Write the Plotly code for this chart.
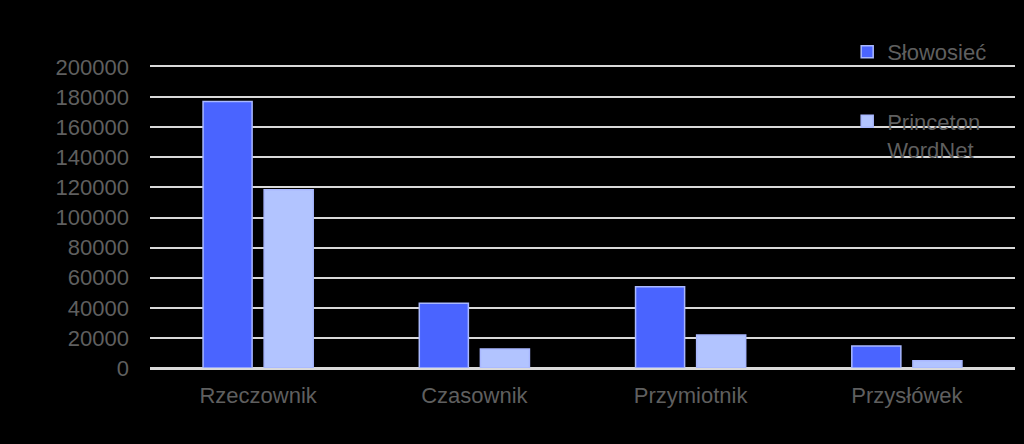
import plotly.graph_objects as go

# parts of speech and counts per wordnet
categories = ["Rzeczownik", "Czasownik", "Przymiotnik", "Przysłówek"]
slowosiec = [177000, 43000, 54000, 14600]
princeton = [118500, 12600, 22000, 4800]

y_ticks = list(range(0, 200001, 20000))

fig = go.Figure()
fig.add_trace(go.Bar(x=categories, y=slowosiec, name="Słowosieć",
                     legendgroup="a",
                     marker=dict(color="#4a64ff", line=dict(color="#a9b8ff", width=1.5))))
fig.add_trace(go.Bar(x=categories, y=princeton, name="Princeton<br>WordNet",
                     legendgroup="b",
                     marker=dict(color="#b2c4ff", line=dict(color="#a9b8ff", width=1.5))))

fig.update_layout(
    width=1024, height=444,
    paper_bgcolor="black", plot_bgcolor="black",
    font=dict(family="Liberation Sans, Arial, sans-serif", size=22, color="#5f5f5f"),
    margin=dict(l=150, r=9, t=67, b=76),
    bargap=0.435, bargroupgap=0.197,
    showlegend=True,
    legend=dict(x=0.806, xanchor="left", y=1.12, yanchor="top",
                bgcolor="rgba(0,0,0,0)", tracegroupgap=38, valign="top",
                font=dict(size=22, color="#5f5f5f")),
    # mirrored x line gives the top (200000) rule as well as the baseline
    xaxis=dict(showgrid=False, showline=True, mirror=True, linecolor="#d9d9d9",
               linewidth=2, ticks="", ticklen=0, ticklabelstandoff=7),
    yaxis=dict(range=[0, 200000], tickvals=y_ticks, tickformat="d", showgrid=True,
               gridcolor="#d9d9d9", gridwidth=2, zeroline=True,
               zerolinecolor="#d9d9d9", zerolinewidth=2, ticks="",
               ticklabelstandoff=20),
)

# drop the default page margin so the chart fills the window
fig.write_html("out.html", config={"displayModeBar": False},
               post_script="document.body.style.margin='0';document.body.style.background='black';")
